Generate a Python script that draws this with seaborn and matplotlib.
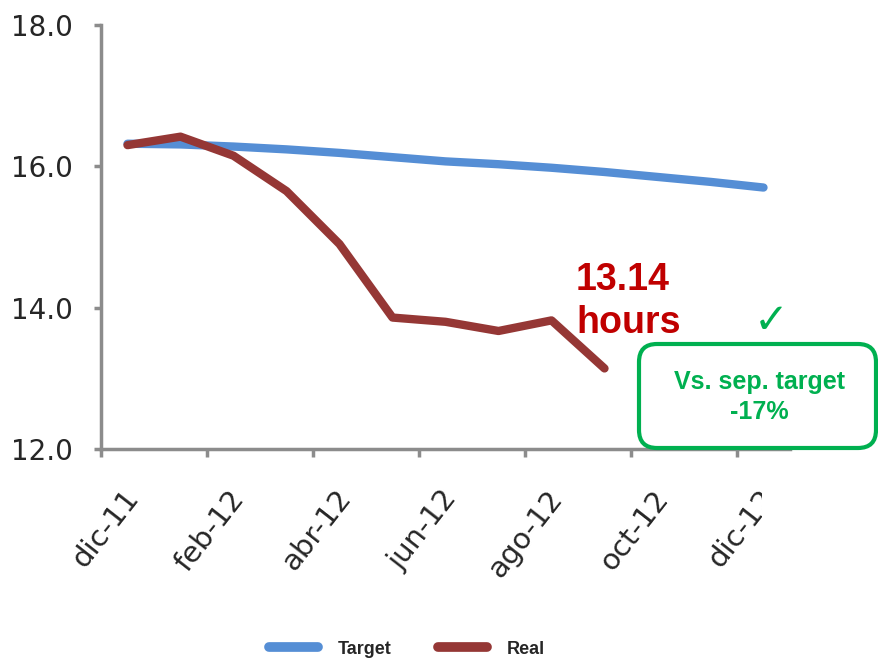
import numpy as np
import pandas as pd
import seaborn as sns
import matplotlib
matplotlib.use("Agg")
import matplotlib.pyplot as plt
from matplotlib.patches import FancyBboxPatch, Rectangle
from matplotlib.transforms import ScaledTranslation

# datos (horas por mes)
months = ['dic-11', 'ene-12', 'feb-12', 'mar-12', 'abr-12', 'may-12', 'jun-12',
          'jul-12', 'ago-12', 'sep-12', 'oct-12', 'nov-12', 'dic-12']
target = [16.32, 16.31, 16.28, 16.24, 16.19, 16.13, 16.07, 16.03, 15.98, 15.92, 15.85, 15.78, 15.70]
real = [16.30, 16.42, 16.15, 15.65, 14.90, 13.86, 13.80, 13.67, 13.82, 13.14]
yticks = [12.0, 14.0, 16.0, 18.0]
xlabel_months = months[::2]

sns.set_theme(style="white")
plt.rcParams['font.family'] = ['DejaVu Sans']

df = pd.concat([
    pd.DataFrame({'pos': np.arange(len(target)), 'hours': target, 'serie': 'Target'}),
    pd.DataFrame({'pos': np.arange(len(real)), 'hours': real, 'serie': 'Real'}),
])

fig = plt.figure(figsize=(8.79, 6.61), dpi=100)
ax = fig.add_axes([101 / 879, 212 / 661, 689 / 879, 424 / 661])

sns.lineplot(data=df, x='pos', y='hours', hue='serie', ax=ax,
             palette={'Target': '#558ED5', 'Real': '#953735'},
             linewidth=6, solid_capstyle='round', solid_joinstyle='round')

ax.set_xlim(-0.5, 12.5)
ax.set_ylim(12, 18)
ax.set_xlabel('')
ax.set_ylabel('')

# ejes
sns.despine(ax=ax)
for s in ['left', 'bottom']:
    ax.spines[s].set_color('#8C8C8C')
    ax.spines[s].set_linewidth(2.5)

ax.set_yticks(yticks)
ax.set_yticklabels(['%.1f' % v for v in yticks])
ax.tick_params(axis='y', left=True, length=5, width=2.5, color='#8C8C8C',
               labelsize=20, pad=15)

ax.set_xticks(np.arange(0, len(months), 2))
ax.set_xticklabels(xlabel_months, rotation=52, ha='right', va='center',
                   rotation_mode='anchor')
ax.set_xticks(np.arange(-0.5, len(months) - 1, 2), minor=True)
ax.tick_params(axis='x', which='major', bottom=True, length=0, labelsize=21, pad=32)
ax.tick_params(axis='x', which='minor', bottom=True, length=6, width=2.5, color='#8C8C8C')

# labels un poco a la derecha
shift = ScaledTranslation(0.06, 0.0, fig.dpi_scale_trans)
for lab in ax.get_xticklabels():
    lab.set_transform(lab.get_transform() + shift)

inch = fig.dpi_scale_trans
# el ultimo label esta cortado en el original
fig.add_artist(Rectangle((7.62, 0.41), 1.2, 1.6, transform=inch,
                         facecolor='white', edgecolor='none', zorder=4))

# leyenda abajo
sns.move_legend(ax, 'center', bbox_to_anchor=(407 / 879, 12 / 661),
                bbox_transform=fig.transFigure, ncol=2, frameon=False, title=None,
                handlelength=2.7, handletextpad=1.1, columnspacing=2.6,
                prop={'family': 'Liberation Sans', 'weight': 'bold', 'size': 13})
for h in ax.get_legend().get_lines():
    h.set_linewidth(7)

# anotaciones
fig.text(5.76, 3.71, '13.14', transform=inch, color='#C00000', fontsize=27,
         fontweight='bold', family='Liberation Sans', va='baseline', ha='left')
fig.text(5.76, 3.28, 'hours', transform=inch, color='#C00000', fontsize=27,
         fontweight='bold', family='Liberation Sans', va='baseline', ha='left')

box = FancyBboxPatch((6.39, 2.13), 2.37, 1.04, transform=inch,
                     boxstyle='round,pad=0,rounding_size=0.18',
                     facecolor='white', edgecolor='#00B050', linewidth=3, zorder=5)
fig.add_artist(box)
fig.text(7.59, 2.64, 'Vs. sep. target\n-17%', transform=inch, color='#00B050',
         fontsize=18, fontweight='bold', family='Liberation Sans',
         ha='center', va='center', linespacing=1.35, zorder=6)
fig.text(7.71, 3.40, '\u2713', transform=inch, color='#00B050', fontsize=30,
         ha='center', va='center', zorder=6)

fig.savefig('out.png', dpi=100)
